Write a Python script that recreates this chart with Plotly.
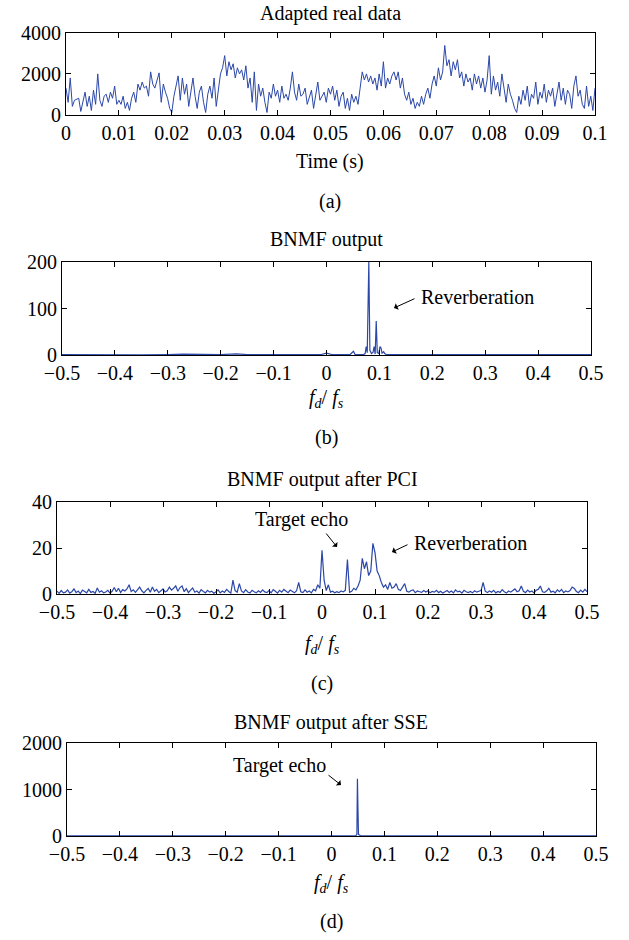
import numpy as np
import plotly.graph_objects as go

# ---------------- data ----------------
# (a) adapted real data, time 0..0.1 s
a_values = [
    1300, 600, 1800, 400, 700, 750, 800, 150, 700, 1100, 400, 900, 200, 1200, 500, 2000, 700, 400, 900, 1000, 600, 1100, 800, 1400, 500,
    700, 500, 900, 300, 600, 200, 800, 1100, 600, 1500, 1200, 1600, 1300, 1400, 900, 2100, 1500, 1300, 1700, 2050, 600, 1500, 1100, 800, 300,
    100, 900, 1400, 1900, 700, 1800, 1000, 1500, 400, 1200, 1800, 900, 300, 1100, 1400, 600, 100, 1000, 1400, 800, 1800, 400, 1200, 2000, 2300,
    2900, 1900, 2600, 2200, 2500, 1800, 2300, 2000, 2200, 1700, 2400, 1300, 1800, 600, 2100, 200, 1500, 900, 1300, 600, 100, 1100, 800, 1500, 900,
    1200, 600, 1400, 800, 1000, 700, 1300, 2100, 1100, 700, 1500, 900, 1000, 1300, 500, 800, 1200, 300, 1000, 1600, 700, 900, 1100, 600, 1300,
    1000, 1400, 700, 1200, 400, 900, 1100, 300, 800, 200, 1000, 600, 900, 500, 1300, 2100, 1700, 2000, 1600, 1900, 1500, 1800, 1200, 2000, 1400,
    2600, 1300, 1800, 1500, 1900, 2100, 1700, 2100, 1300, 1800, 1000, 700, 1100, 500, 800, 300, 600, 400, 900, 500, 1000, 1300, 800, 1500, 1900,
    1400, 2300, 1700, 2100, 3400, 2400, 2700, 1900, 2600, 2200, 2700, 1800, 2100, 1400, 2000, 1600, 1800, 1200, 2000, 1500, 1900, 1300, 1800, 1100, 1700,
    2900, 1000, 1900, 1200, 1600, 900, 2000, 1300, 600, 1500, 1000, 700, 300, 100, 900, 500, 1200, 700, 1400, 400, 1000, 800, 1600, 500, 1100,
    800, 1500, 600, 1200, 900, 1300, 400, 1100, 1600, 700, 1300, 500, 1200, 1000, 300, 1400, 1900, 900, 1200, 500, 300, 1400, 400, 900, 200, 1300,
]
a_time = np.linspace(0.0, 0.1, len(a_values))

# (b) BNMF output
b_freq = [-0.5, -0.45, -0.4, -0.35, -0.3, -0.27, -0.2, -0.17, -0.15, -0.1, -0.05, -0.04, -0.01, 0.0, 0.005,
          0.01, 0.03, 0.045, 0.051, 0.054, 0.07, 0.073, 0.075, 0.077, 0.080, 0.082, 0.085, 0.088, 0.090, 0.092,
          0.094, 0.096, 0.099, 0.101, 0.103, 0.105, 0.108, 0.110, 0.113, 0.12, 0.14, 0.16, 0.2, 0.25, 0.3,
          0.35, 0.4, 0.45, 0.5]
b_vals = [1, 0.5, 1.5, 0.5, 1, 2, 0.8, 2.5, 0.7, 1, 0.6, 2, 1, 4, 2,
          1, 0.8, 1.5, 8, 1, 1, 3, 18, 5, 200, 10, 3, 6, 18, 2,
          73, 5, 3, 18, 15, 4, 7, 3, 1, 1, 2, 1.5, 0.8, 1, 1.5,
          0.6, 1, 0.5, 1]

# (c) BNMF output after PCI
c_vals = [
    1.2, 0.3, 1.5, 0.5, 0.8, 1.8, 0.4, 1.0, 2.2, 0.6, 1.3, 0.2, 1.7, 0.9, 0.5, 2.0, 0.7, 1.1, 0.3, 2.6, 0.8, 1.4, 0.5, 0.9, 1.6,
    0.4, 1.2, 2.8, 1.0, 2.5, 0.6, 1.9, 1.3, 2.2, 4.0, 1.1, 1.8, 0.7, 2.1, 3.0, 1.4, 0.5, 1.6, 2.4, 0.8, 3.0, 1.2, 2.0, 0.6, 1.5,
    2.2, 0.9, 1.4, 3.0, 1.7, 2.5, 3.5, 1.2, 2.8, 3.5, 1.0, 2.3, 0.6, 1.7, 2.6, 0.8, 1.3, 0.4, 1.9, 1.1, 0.5, 1.6, 0.8, 1.2, 0.3,
    1.0, 1.8, 0.5, 1.3, 0.7, 2.0, 1.1, 0.4, 6.0, 1.5, 0.8, 4.5, 1.3, 0.6, 1.9, 0.9, 0.4, 1.6, 1.0, 0.5, 1.4, 0.7, 1.8, 0.9, 0.6,
    1.5, 0.5, 1.9, 1.2, 0.4, 1.6, 0.8, 2.0, 1.2, 0.6, 1.7, 0.9, 0.5, 1.4, 5.0, 1.0, 0.6, 1.8, 0.8, 1.3, 0.5, 2.0, 1.4, 4.0, 2.5,
    19, 6.0, 1.5, 4.0, 0.8, 1.2, 0.5, 1.0, 0.6, 1.3, 0.9, 1.6, 15, 0.7, 1.2, 2.5, 1.8, 3.5, 6.0, 15.5, 11, 14, 8.0, 10, 22,
    18, 10, 8.0, 5.0, 3.0, 4.0, 2.0, 5.0, 2.5, 3.0, 4.5, 2.0, 1.5, 3.0, 4.5, 1.2, 0.8, 1.5, 1.8, 0.6, 1.3, 1.0, 0.7, 1.5, 0.9,
    1.4, 0.5, 1.1, 0.8, 1.6, 0.6, 1.2, 0.4, 1.0, 1.5, 0.7, 1.3, 0.5, 1.8, 0.9, 1.2, 0.4, 1.6, 1.0, 0.6, 1.1, 0.5, 1.4, 0.8, 1.2,
    1.5, 5.0, 1.2, 0.6, 1.3, 0.8, 1.6, 0.5, 1.1, 0.7, 1.9, 1.0, 0.4, 1.3, 0.8, 1.5, 2.2, 1.0, 1.4, 3.5, 1.2, 0.6, 1.7, 0.9, 1.3,
    0.5, 1.6, 2.0, 3.5, 1.0, 0.7, 1.4, 2.5, 0.8, 1.2, 0.5, 1.8, 1.0, 2.0, 0.6, 1.3, 0.9, 1.5, 3.0, 2.4, 1.1, 0.6, 1.7, 0.8, 2.0, 1.0,
]
c_freq = np.linspace(-0.5, 0.5, len(c_vals))

# (d) BNMF output after SSE
d_freq = [-0.5, -0.4, -0.3, -0.2, -0.1, 0.0, 0.03, 0.046, 0.048, 0.049, 0.050, 0.051, 0.053, 0.055,
          0.06, 0.1, 0.2, 0.3, 0.4, 0.5]
d_vals = [3, 2, 3, 2, 3, 2, 3, 5, 40, 1230, 600, 30, 20, 5,
          3, 2, 3, 2, 3, 2]

x_a_ticks = [0, 0.01, 0.02, 0.03, 0.04, 0.05, 0.06, 0.07, 0.08, 0.09, 0.1]
x_a_labels = ["0", "0.01", "0.02", "0.03", "0.04", "0.05", "0.06", "0.07", "0.08", "0.09", "0.1"]
x_f_ticks = [-0.5, -0.4, -0.3, -0.2, -0.1, 0, 0.1, 0.2, 0.3, 0.4, 0.5]
x_f_labels = ["\u22120.5", "\u22120.4", "\u22120.3", "\u22120.2", "\u22120.1", "0", "0.1", "0.2", "0.3", "0.4", "0.5"]

titles = ["Adapted real data", "BNMF output", "BNMF output after PCI", "BNMF output after SSE"]
sub_labels = ["(a)", "(b)", "(c)", "(d)"]

# ---------------- figure ----------------
W, H = 629, 940
LINE = "#2b47a8"
FONT = "Liberation Serif"
FS = 20

def px(x):
    return x / W

def py(y):
    return 1 - y / H

# panel boxes in pixels: left, right, top, bottom
boxes = [(66, 595, 33.3, 114.5), (62, 591, 262, 355), (57, 587, 502, 594), (67, 596, 743, 836)]

fig = go.Figure()
fig.add_trace(go.Scatter(x=a_time, y=a_values, mode="lines", line=dict(color=LINE, width=1), xaxis="x", yaxis="y"))
fig.add_trace(go.Scatter(x=b_freq, y=b_vals, mode="lines", line=dict(color=LINE, width=1.2), xaxis="x2", yaxis="y2"))
fig.add_trace(go.Scatter(x=c_freq, y=c_vals, mode="lines", line=dict(color=LINE, width=1.2), xaxis="x3", yaxis="y3"))
fig.add_trace(go.Scatter(x=d_freq, y=d_vals, mode="lines", line=dict(color=LINE, width=1.2), xaxis="x4", yaxis="y4"))

axis_common = dict(showline=True, linecolor="black", linewidth=1, mirror="ticks", ticks="inside",
                   ticklen=5, tickcolor="black", showgrid=False, zeroline=False, automargin=False,
                   tickfont=dict(family=FONT, size=FS, color="black"), fixedrange=True)

yranges = [[0, 4000], [0, 200], [0, 40], [0, 2000]]
yticks = [[0, 2000, 4000], [0, 100, 200], [0, 20, 40], [0, 1000, 2000]]

layout = dict(width=W, height=H, margin=dict(l=0, r=0, t=0, b=0), showlegend=False,
              plot_bgcolor="white", paper_bgcolor="white")
for i, (l, r, t, b) in enumerate(boxes):
    sfx = "" if i == 0 else str(i + 1)
    xa = dict(axis_common, domain=[px(l), px(r)], anchor="y" + sfx)
    if i == 0:
        xa.update(range=[0, 0.1], tickvals=x_a_ticks, ticktext=x_a_labels)
    else:
        xa.update(range=[-0.5, 0.5], tickvals=x_f_ticks, ticktext=x_f_labels)
    ya = dict(axis_common, domain=[py(b), py(t)], anchor="x" + sfx, range=yranges[i], tickvals=yticks[i],
              ticktext=[str(v) for v in yticks[i]])
    layout["xaxis" + sfx] = xa
    layout["yaxis" + sfx] = ya
fig.update_layout(**layout)

ann = []
def text(x, y, s, size=FS, xanchor="center"):
    ann.append(dict(x=px(x), y=py(y), xref="paper", yref="paper", text=s, showarrow=False,
                    xanchor=xanchor, yanchor="middle", font=dict(family=FONT, size=size, color="black")))

def arrow(tx, ty, hx, hy):
    ann.append(dict(x=px(hx), y=py(hy), xref="paper", yref="paper", text="", showarrow=True,
                    ax=tx - hx, ay=ty - hy, arrowhead=1, arrowsize=1.2, arrowwidth=1, arrowcolor="black"))

title_pos = [(330, 13), (326, 239), (322, 480), (331, 722)]
sub_pos = [(330, 201), (326, 438), (322, 683), (331, 921)]
for i in range(4):
    text(title_pos[i][0], title_pos[i][1], titles[i])
    text(sub_pos[i][0], sub_pos[i][1], sub_labels[i])

text(330, 161, "Time (s)")
fd = "<i>f<sub>d</sub></i>/ <i>f<sub>s</sub></i>"
text(326, 399, fd)
text(322, 644, fd)
text(331, 883, fd)

text(419, 297, "Reverberation", xanchor="left")
arrow(416, 298, 394, 308)
text(301, 519, "Target echo")
arrow(325, 532, 337, 547)
text(412, 543, "Reverberation", xanchor="left")
arrow(409, 544, 392, 552)
text(279, 765, "Target echo")
arrow(327, 774, 341, 785)

fig.update_layout(annotations=ann)
fig.write_html("out.html")
